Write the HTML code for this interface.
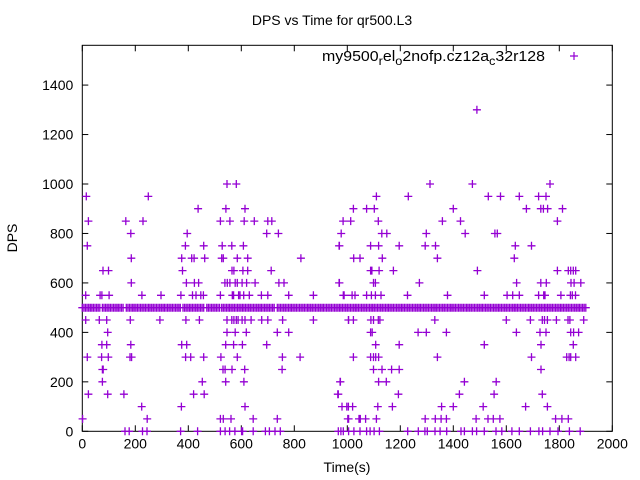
<!DOCTYPE html>
<html><head><meta charset="utf-8"><style>
html,body{margin:0;padding:0;background:#fff}
svg{display:block;font-family:"Liberation Sans",sans-serif}
</style></head><body>
<svg id="chart" width="640" height="480" viewBox="0 0 640 480" xmlns="http://www.w3.org/2000/svg">
<rect x="0" y="0" width="640" height="480" fill="#fff"/>
<text x="332" y="25" font-size="14" text-anchor="middle" fill="#000">DPS vs Time for qr500.L3</text>
<text x="347" y="472" font-size="14" text-anchor="middle" fill="#000">Time(s)</text>
<text transform="translate(17,238) rotate(-90)" font-size="14" text-anchor="middle" fill="#000">DPS</text>
<g id="axes"></g>
<g id="marks"></g>
<g>
<text x="322" y="61" font-size="15" textLength="223" lengthAdjust="spacingAndGlyphs" fill="#000">my9500<tspan baseline-shift="-4" font-size="12">r</tspan>el<tspan baseline-shift="-4" font-size="12">o</tspan>2nofp.cz12a<tspan baseline-shift="-4" font-size="12">c</tspan>32r128</text>
<g id="legendmark"></g>
</g>
</svg>
<script>
const xTicks=[0,200,400,600,800,1000,1200,1400,1600,1800,2000];
const yTicks=[0,200,400,600,800,1000,1200,1400];
const dpsLevels=[1300,1000,950,900,850,800,750,700,650,600,550,500,450,400,350,300,250,200,150,100,50,0];
const t1300=[1489];
const t1000=[546,581,1312,1472,1765];
const t950=[15,249,1110,1230,1532,1578,1649,1722,1750];
const t900=[437,542,614,1023,1073,1102,1400,1676,1730,1740,1756,1812];
const t850=[23,164,229,521,557,611,649,700,715,984,1013,1117,1359,1427,1793];
const t800=[183,396,696,740,977,1130,1149,1298,1445,1557,1566];
const t750=[19,389,458,528,564,608,969,970,1088,1118,1196,1294,1333,1634,1695];
const t700=[185,375,413,422,462,526,532,585,624,825,1024,1048,1132,1340,1630];
const t650=[78,99,378,565,572,606,624,713,1088,1093,1120,1174,1491,1793,1834,1843,1853,1862];
const t600=[185,393,423,439,538,547,557,577,585,603,620,652,742,761,969,970,1099,1106,1272,1639,1730,1751,1844,1856,1881];
const t550=[13,67,74,101,225,297,372,416,429,447,457,521,566,571,590,595,609,630,676,700,779,872,988,985,1018,1029,1073,1091,1106,1127,1227,1378,1517,1603,1624,1649,1722,1741,1746,1806,1842,1849,1861];
const t500=[0,6,12,18,24,30,36,42,48,54,60,66,76,82,88,94,100,106,112,118,124,130,136,142,148,154,166,172,178,184,190,196,202,208,214,220,226,232,238,244,250,256,262,268,274,280,286,292,298,304,310,316,322,328,334,340,346,352,358,364,370,380,386,392,398,404,410,416,422,428,434,440,446,452,458,470,476,482,488,494,500,506,512,518,526,532,538,544,550,556,562,568,574,580,586,592,598,604,610,616,622,628,634,640,646,652,658,664,670,676,682,688,694,700,706,712,718,724,736,742,748,754,760,766,772,778,784,790,796,802,808,814,820,826,832,838,844,850,856,862,868,874,880,886,892,898,904,910,916,922,928,934,940,946,952,958,964,970,976,982,988,994,1000,1006,1012,1018,1024,1030,1036,1042,1048,1054,1060,1066,1072,1078,1084,1090,1096,1102,1108,1114,1120,1126,1132,1138,1144,1150,1156,1162,1168,1174,1180,1186,1192,1198,1204,1210,1216,1222,1228,1234,1240,1246,1252,1258,1264,1270,1276,1282,1288,1294,1300,1306,1312,1318,1324,1330,1336,1342,1348,1354,1360,1366,1372,1378,1384,1390,1396,1402,1408,1414,1420,1426,1432,1438,1444,1450,1456,1462,1468,1474,1480,1486,1492,1498,1504,1510,1516,1522,1528,1534,1540,1546,1552,1558,1564,1570,1576,1582,1588,1594,1600,1606,1612,1618,1624,1630,1636,1642,1648,1654,1660,1666,1672,1678,1684,1690,1696,1702,1708,1714,1720,1726,1732,1738,1744,1750,1756,1762,1768,1774,1780,1786,1792,1798,1804,1810,1816,1822,1828,1834,1840,1846,1852,1858,1864,1870,1876,1882,1888,1894,1900];
const t450=[13,64,92,181,293,391,442,546,564,572,581,588,603,614,637,677,700,756,872,1004,1005,1023,1089,1099,1117,1123,1330,1600,1691,1736,1744,1755,1789,1833,1840,1892];
const t400=[96,546,577,619,736,779,1088,1094,1267,1298,1374,1638,1727,1750,1843,1854,1873];
const t350=[74,92,183,375,394,541,571,604,696,1107,1196,1517,1731,1853];
const t300=[19,73,98,180,186,390,409,458,523,585,755,822,1023,1088,1099,1107,1118,1340,1695,1828,1837,1843,1862];
const t250=[76,79,531,539,565,613,754,1099,1131,1167,1196,1731];
const t200=[76,453,541,610,973,974,1118,1147,1442,1562];
const t150=[23,96,157,420,460,964,966,1193,1423,1554,1736];
const t100=[224,374,614,980,998,1004,1020,1115,1170,1356,1400,1513,1673,1755];
const t50=[1,245,521,532,561,645,736,1002,1005,1044,1049,1069,1110,1294,1332,1354,1374,1486,1531,1551,1576,1786,1810,1834];
const t0=[161,177,227,244,371,435,521,539,556,576,601,605,645,691,706,727,747,966,985,966,976,1005,1025,1048,1073,1086,1101,1121,1228,1268,1293,1302,1331,1350,1375,1429,1442,1472,1488,1517,1561,1583,1621,1649,1691,1723,1737,1765,1795,1838,1879];
const timesByLevel=[t1300,t1000,t950,t900,t850,t800,t750,t700,t650,t600,t550,t500,t450,t400,t350,t300,t250,t200,t150,t100,t50,t0];

const NS="http://www.w3.org/2000/svg";
const L=82.3,R=612.3,B=431.3,T=45.3;
const xs=v=>L+v*(R-L)/2000;
const ys=v=>B-v*0.2473;
const axes=document.getElementById('axes');
const marks=document.getElementById('marks');
function mk(tag,attrs,parent){const e=document.createElementNS(NS,tag);for(const k in attrs)e.setAttribute(k,attrs[k]);parent.appendChild(e);return e;}
const frame=mk('rect',{x:L,y:T,width:R-L,height:B-T,fill:'none',stroke:'#000','stroke-width':1},axes);


xTicks.forEach(v=>{
  const x=xs(v);
  mk('line',{x1:x,y1:B,x2:x,y2:B-6,stroke:'#000'},axes);
  mk('line',{x1:x,y1:T,x2:x,y2:T+6,stroke:'#000'},axes);
  const t=mk('text',{x:x,y:B+17,'font-size':14,'text-anchor':'middle',fill:'#000'},axes);
  t.textContent=v;
  
  
});
yTicks.forEach(v=>{
  const y=ys(v);
  mk('line',{x1:L,y1:y,x2:L+6,y2:y,stroke:'#000'},axes);
  mk('line',{x1:R,y1:y,x2:R-6,y2:y,stroke:'#000'},axes);
  const t=mk('text',{x:L-9,y:y+5,'font-size':14,'text-anchor':'end',fill:'#000'},axes);
  t.textContent=v;
  
  
});
let d='';
function plus(x,y){d+='M'+(x-4).toFixed(1)+' '+y.toFixed(1)+'h8M'+x.toFixed(1)+' '+(y-4).toFixed(1)+'v8';}
dpsLevels.forEach((lvl,i)=>{timesByLevel[i].forEach(t=>plus(xs(t),ys(lvl)));});
const p=mk('path',{d:d,stroke:'#9400d3','stroke-width':1.3,fill:'none'},marks);


const lm=mk('path',{d:'M570 56h8M574 52v8',stroke:'#9400d3','stroke-width':1.2},document.getElementById('legendmark'));


</script>
</body></html>
